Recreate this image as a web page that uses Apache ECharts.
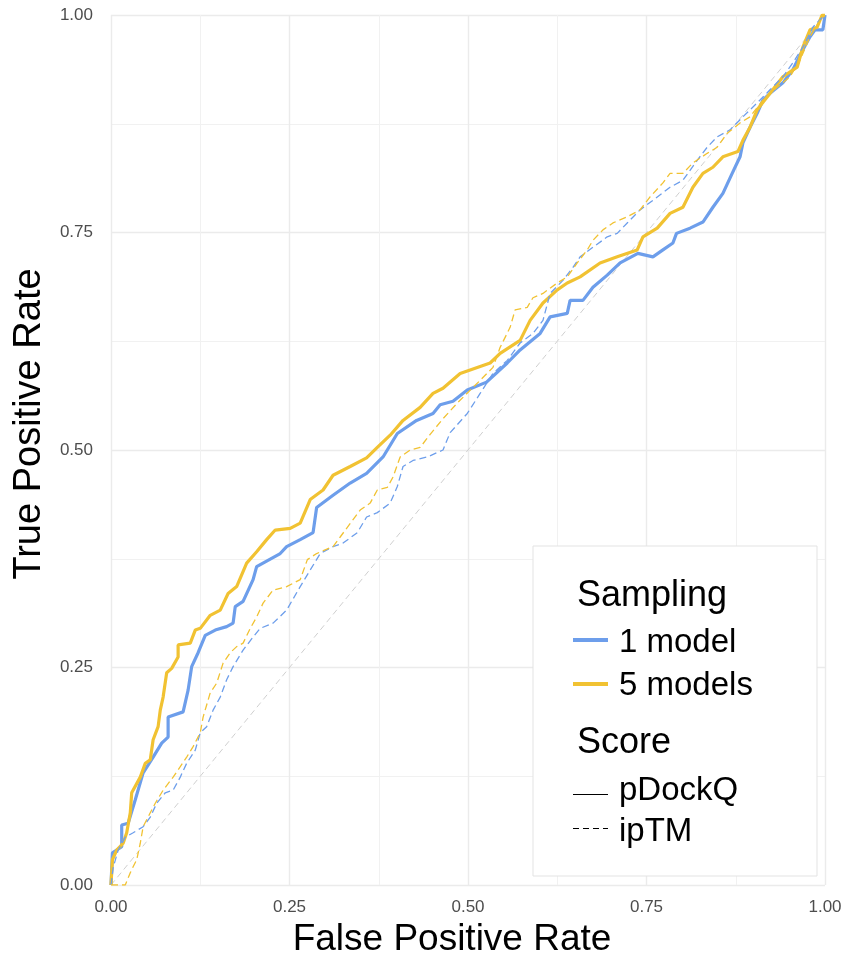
<!DOCTYPE html>
<html>
<head>
<meta charset="utf-8">
<script src="https://cdn.jsdelivr.net/npm/echarts@6/dist/echarts.min.js"></script>
<style>
  html, body { margin: 0; padding: 0; background: #fff; }
  #chart { width: 844px; height: 958px; }
</style>
</head>
<body>
<div id="chart"></div>
<script>
// ROC points: [false positive rate, true positive rate]
const oneModelPdockq = [[0,0],[0.002,0.037],[0.015,0.044],[0.015,0.069],[0.024,0.071],[0.034,0.098],[0.045,0.129],[0.059,0.147],[0.071,0.163],[0.080,0.170],[0.080,0.193],[0.101,0.199],[0.108,0.224],[0.113,0.251],[0.122,0.267],[0.132,0.287],[0.146,0.293],[0.162,0.297],[0.171,0.301],[0.174,0.320],[0.185,0.326],[0.199,0.351],[0.204,0.366],[0.237,0.381],[0.246,0.389],[0.265,0.397],[0.283,0.405],[0.288,0.434],[0.311,0.448],[0.335,0.462],[0.358,0.473],[0.381,0.492],[0.401,0.519],[0.428,0.534],[0.451,0.542],[0.461,0.552],[0.479,0.556],[0.499,0.569],[0.526,0.578],[0.555,0.600],[0.573,0.615],[0.601,0.634],[0.615,0.653],[0.639,0.657],[0.643,0.672],[0.661,0.672],[0.675,0.687],[0.695,0.701],[0.713,0.715],[0.738,0.726],[0.759,0.722],[0.773,0.730],[0.787,0.738],[0.792,0.749],[0.811,0.755],[0.829,0.762],[0.843,0.779],[0.857,0.795],[0.870,0.818],[0.881,0.837],[0.885,0.853],[0.895,0.871],[0.905,0.887],[0.913,0.902],[0.923,0.910],[0.941,0.922],[0.955,0.937],[0.969,0.960],[0.979,0.975],[0.986,0.983],[0.997,0.983],[1,1]]

const fiveModelsPdockq = [[0,0],[0.002,0.029],[0.008,0.040],[0.017,0.048],[0.022,0.060],[0.027,0.083],[0.029,0.106],[0.041,0.124],[0.048,0.140],[0.055,0.144],[0.059,0.167],[0.066,0.182],[0.069,0.201],[0.073,0.216],[0.078,0.244],[0.085,0.249],[0.094,0.262],[0.094,0.276],[0.111,0.278],[0.118,0.293],[0.125,0.295],[0.139,0.310],[0.153,0.316],[0.164,0.335],[0.176,0.343],[0.190,0.370],[0.204,0.383],[0.218,0.397],[0.230,0.408],[0.251,0.410],[0.265,0.416],[0.279,0.443],[0.297,0.454],[0.311,0.471],[0.335,0.481],[0.358,0.491],[0.373,0.503],[0.391,0.517],[0.409,0.534],[0.433,0.549],[0.451,0.565],[0.465,0.571],[0.489,0.588],[0.531,0.600],[0.545,0.611],[0.573,0.626],[0.587,0.649],[0.605,0.669],[0.625,0.684],[0.639,0.692],[0.657,0.699],[0.685,0.715],[0.709,0.722],[0.737,0.730],[0.745,0.745],[0.765,0.755],[0.783,0.772],[0.801,0.779],[0.815,0.802],[0.829,0.818],[0.843,0.825],[0.857,0.837],[0.878,0.843],[0.885,0.856],[0.895,0.871],[0.905,0.891],[0.923,0.910],[0.941,0.929],[0.961,0.940],[0.969,0.963],[0.979,0.983],[0.989,0.986],[0.996,1.0],[1,1]]

const oneModelIptm = [[0,0],[0.003,0.020],[0.010,0.040],[0.020,0.055],[0.031,0.060],[0.045,0.067],[0.055,0.078],[0.064,0.094],[0.076,0.106],[0.087,0.109],[0.097,0.124],[0.106,0.140],[0.118,0.155],[0.125,0.175],[0.134,0.182],[0.143,0.201],[0.153,0.216],[0.162,0.236],[0.171,0.251],[0.185,0.270],[0.199,0.285],[0.209,0.295],[0.227,0.301],[0.246,0.316],[0.265,0.343],[0.279,0.362],[0.293,0.381],[0.311,0.389],[0.325,0.393],[0.345,0.405],[0.358,0.423],[0.373,0.428],[0.391,0.439],[0.401,0.458],[0.409,0.481],[0.423,0.488],[0.443,0.492],[0.465,0.500],[0.475,0.520],[0.499,0.542],[0.517,0.565],[0.535,0.588],[0.555,0.603],[0.573,0.623],[0.591,0.634],[0.605,0.649],[0.615,0.680],[0.633,0.695],[0.647,0.710],[0.657,0.722],[0.675,0.733],[0.695,0.745],[0.709,0.749],[0.723,0.761],[0.741,0.776],[0.759,0.787],[0.783,0.802],[0.801,0.810],[0.821,0.833],[0.835,0.848],[0.849,0.860],[0.867,0.868],[0.885,0.883],[0.905,0.899],[0.923,0.914],[0.941,0.929],[0.955,0.945],[0.969,0.963],[0.983,0.986],[0.997,0.998],[1,1]]

const fiveModelsIptm = [[0,0],[0.020,0],[0.027,0.014],[0.031,0.021],[0.036,0.029],[0.041,0.048],[0.045,0.067],[0.055,0.083],[0.062,0.094],[0.073,0.109],[0.087,0.124],[0.097,0.136],[0.106,0.147],[0.115,0.159],[0.125,0.175],[0.129,0.193],[0.139,0.221],[0.148,0.232],[0.157,0.255],[0.167,0.267],[0.176,0.274],[0.185,0.278],[0.195,0.295],[0.204,0.308],[0.213,0.324],[0.227,0.339],[0.246,0.343],[0.265,0.351],[0.275,0.374],[0.288,0.381],[0.311,0.389],[0.321,0.400],[0.339,0.420],[0.349,0.431],[0.363,0.439],[0.373,0.454],[0.387,0.457],[0.395,0.469],[0.405,0.492],[0.419,0.500],[0.433,0.503],[0.447,0.518],[0.465,0.536],[0.485,0.554],[0.517,0.580],[0.535,0.595],[0.545,0.618],[0.559,0.641],[0.566,0.661],[0.583,0.664],[0.591,0.675],[0.605,0.680],[0.625,0.692],[0.639,0.699],[0.653,0.715],[0.667,0.730],[0.675,0.741],[0.689,0.753],[0.703,0.761],[0.723,0.768],[0.741,0.776],[0.755,0.791],[0.773,0.807],[0.783,0.818],[0.801,0.818],[0.815,0.830],[0.835,0.841],[0.849,0.848],[0.863,0.864],[0.881,0.876],[0.895,0.883],[0.913,0.902],[0.933,0.917],[0.951,0.929],[0.965,0.948],[0.979,0.975],[0.993,0.994],[1,1]]

const chanceLine = [[0,0],[1,1]]

const samplingNames = ['1 model', '5 models']
const scoreNames = ['pDockQ', 'ipTM']

const BLUE = '#6d9eeb'
const YELLOW = '#f1c232'
const FONT = '"Liberation Sans", Arial, Helvetica, sans-serif'

const chart = echarts.init(document.getElementById('chart'))

const axisCommon = {
  type: 'value',
  min: 0,
  max: 1,
  interval: 0.25,
  nameLocation: 'middle',
  nameTextStyle: { fontFamily: FONT, fontSize: 37, color: '#000' },
  axisLine: { show: false },
  axisTick: { show: false },
  axisLabel: {
    fontFamily: FONT,
    fontSize: 17,
    color: '#4d4d4d',
    formatter: v => v.toFixed(2)
  },
  splitLine: { lineStyle: { color: '#ebebeb', width: 1.4 } },
  minorTick: { show: false, splitNumber: 2 },
  minorSplitLine: { show: true, lineStyle: { color: '#f1f1f1', width: 1 } }
}

const lineSeries = (name, data, color, dashed) => ({
  name,
  type: 'line',
  data,
  showSymbol: false,
  symbol: 'none',
  silent: true,
  lineStyle: {
    color,
    width: dashed ? 1.3 : 3.2,
    type: dashed ? [7, 4] : 'solid'
  },
  z: dashed ? 4 : 3
})

// legend drawn by hand: two titled groups like the original
const legendGraphics = [
  {
    type: 'rect',
    shape: { x: 533, y: 546, width: 284, height: 330 },
    style: { fill: '#fff', stroke: '#e3e3e3', lineWidth: 1 },
    z: 10
  },
  { type: 'text', x: 577, y: 596, style: { text: 'Sampling', font: '36px ' + FONT, fill: '#000', verticalAlign: 'middle' }, z: 11 },
  { type: 'line', shape: { x1: 573, y1: 640, x2: 608, y2: 640 }, style: { stroke: BLUE, lineWidth: 4 }, z: 11 },
  { type: 'text', x: 619, y: 643, style: { text: samplingNames[0], font: '33px ' + FONT, fill: '#000', verticalAlign: 'middle' }, z: 11 },
  { type: 'line', shape: { x1: 573, y1: 684, x2: 608, y2: 684 }, style: { stroke: YELLOW, lineWidth: 4 }, z: 11 },
  { type: 'text', x: 619, y: 686, style: { text: samplingNames[1], font: '33px ' + FONT, fill: '#000', verticalAlign: 'middle' }, z: 11 },
  { type: 'text', x: 577, y: 743, style: { text: 'Score', font: '36px ' + FONT, fill: '#000', verticalAlign: 'middle' }, z: 11 },
  { type: 'line', shape: { x1: 573, y1: 794.5, x2: 608, y2: 794.5 }, style: { stroke: '#000', lineWidth: 1.2 }, z: 11 },
  { type: 'text', x: 619, y: 791, style: { text: scoreNames[0], font: '33px ' + FONT, fill: '#000', verticalAlign: 'middle' }, z: 11 },
  { type: 'line', shape: { x1: 573, y1: 828.5, x2: 608, y2: 828.5 }, style: { stroke: '#000', lineWidth: 1.2, lineDash: [6, 4] }, z: 11 },
  { type: 'text', x: 619, y: 832, style: { text: scoreNames[1], font: '33px ' + FONT, fill: '#000', verticalAlign: 'middle' }, z: 11 }
]

chart.setOption({
  backgroundColor: '#fff',
  animation: false,
  grid: { left: 111, right: 19, top: 15, bottom: 73, outerBoundsMode: 'none' },
  xAxis: Object.assign({}, axisCommon, {
    name: 'False Positive Rate',
    nameGap: 35,
    nameTextStyle: Object.assign({}, axisCommon.nameTextStyle, { padding: [0, 32, 0, 0] }),
    axisLabel: Object.assign({}, axisCommon.axisLabel, { margin: 14 })
  }),
  yAxis: Object.assign({}, axisCommon, {
    name: 'True Positive Rate',
    nameGap: 60,
    nameTextStyle: Object.assign({}, axisCommon.nameTextStyle, { fontSize: 38, padding: [0, 0, 0, 52] }),
    axisLabel: Object.assign({}, axisCommon.axisLabel, { margin: 18 })
  }),
  series: [
    {
      type: 'line',
      data: chanceLine,
      showSymbol: false,
      symbol: 'none',
      silent: true,
      lineStyle: { color: '#cfcfcf', width: 1, type: [6, 4] },
      z: 2
    },
    lineSeries('1 model pDockQ', oneModelPdockq, BLUE, false),
    lineSeries('5 models pDockQ', fiveModelsPdockq, YELLOW, false),
    lineSeries('1 model ipTM', oneModelIptm, BLUE, true),
    lineSeries('5 models ipTM', fiveModelsIptm, YELLOW, true)
  ],
  graphic: legendGraphics
})

window.addEventListener('resize', () => chart.resize())
</script>
</body>
</html>
